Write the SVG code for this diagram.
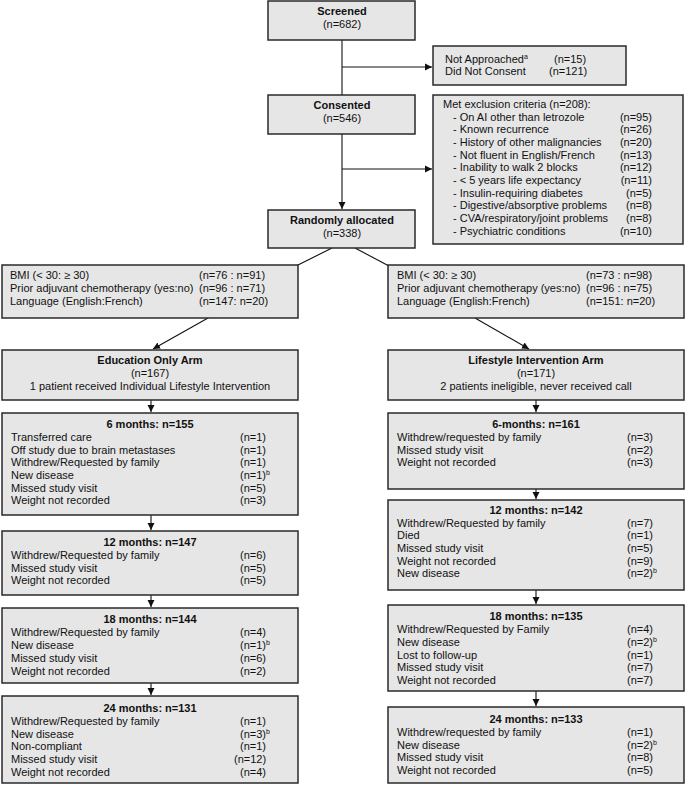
<svg xmlns="http://www.w3.org/2000/svg" width="685" height="785" viewBox="0 0 685 785">
<style>
.b{fill:#e6e6e6;stroke:#2a2a2a;stroke-width:1.5}
text{font-family:"Liberation Sans",Arial,sans-serif;font-size:11px;fill:#111}
.h{font-weight:bold;text-anchor:middle}
.c{text-anchor:middle}
.e{text-anchor:end}
.l{stroke:#111;stroke-width:1.1;fill:none}
.s{font-size:7px}
</style>
<defs><marker id="a" markerWidth="8" markerHeight="8" refX="7" refY="4" orient="auto" markerUnits="userSpaceOnUse"><path d="M0,0.5L7,4L0,7.5z" fill="#111"/></marker></defs>
<g id="connectors">
<path class="l" d="M342,40V209" marker-end="url(#a)"/>
<path class="l" d="M342,67H432" marker-end="url(#a)"/>
<path class="l" d="M342,169H432" marker-end="url(#a)"/>
<path class="l" d="M332,248L296,266"/>
<path class="l" d="M355,248L389,266"/>
<path class="l" d="M208,318L153,349" marker-end="url(#a)"/>
<path class="l" d="M475,318L529,349" marker-end="url(#a)"/>
<path class="l" d="M151,400V412" marker-end="url(#a)"/>
<path class="l" d="M151,515V530" marker-end="url(#a)"/>
<path class="l" d="M151,595V607" marker-end="url(#a)"/>
<path class="l" d="M151,683V695" marker-end="url(#a)"/>
<path class="l" d="M536,400V412" marker-end="url(#a)"/>
<path class="l" d="M536,489V499" marker-end="url(#a)"/>
<path class="l" d="M536,590V604" marker-end="url(#a)"/>
<path class="l" d="M536,691V706" marker-end="url(#a)"/>
</g>
<g id="screened"><rect class="b" x="268" y="1" width="147" height="39"/><text class="h" x="342" y="15">Screened</text><text class="c" x="342" y="28">(n=682)</text></g>
<g id="notapproached"><rect class="b" x="433" y="46" width="193" height="39"/><text x="445" y="63">Not Approached<tspan class="s" dy="-4">a</tspan></text><text x="554" y="63">(n=15)</text><text x="445" y="75">Did Not Consent</text><text x="549" y="75">(n=121)</text></g>
<g id="consented"><rect class="b" x="268" y="95" width="147" height="39"/><text class="h" x="342" y="109">Consented</text><text class="c" x="342" y="122">(n=546)</text></g>
<g id="exclusion"><rect class="b" x="433" y="95" width="250" height="149"/>
<text x="443" y="108">Met exclusion criteria (n=208):</text>
<text x="453" y="121">-  On AI other than letrozole</text><text class="e" x="652" y="121">(n=95)</text>
<text x="453" y="133">-  Known recurrence</text><text class="e" x="652" y="133">(n=26)</text>
<text x="453" y="146">-  History of other malignancies</text><text class="e" x="652" y="146">(n=20)</text>
<text x="453" y="159">-  Not fluent in English/French</text><text class="e" x="652" y="159">(n=13)</text>
<text x="453" y="171">-  Inability to walk 2 blocks</text><text class="e" x="652" y="171">(n=12)</text>
<text x="453" y="184">-  &lt; 5 years life expectancy</text><text class="e" x="652" y="184">(n=11)</text>
<text x="453" y="197">-  Insulin-requiring diabetes</text><text class="e" x="652" y="197">(n=5)</text>
<text x="453" y="209">-  Digestive/absorptive problems</text><text class="e" x="652" y="209">(n=8)</text>
<text x="453" y="222">-  CVA/respiratory/joint problems</text><text class="e" x="652" y="222">(n=8)</text>
<text x="453" y="235">-  Psychiatric conditions</text><text class="e" x="652" y="235">(n=10)</text>
</g>
<g id="random"><rect class="b" x="268" y="210" width="147" height="38"/><text class="h" x="342" y="224">Randomly allocated</text><text class="c" x="342" y="237">(n=338)</text></g>
<g id="bmiL"><rect class="b" x="2" y="265" width="296" height="53"/>
<text x="10" y="279">BMI (&lt; 30: ≥ 30)</text><text x="199" y="279">(n=76 :  n=91)</text>
<text x="10" y="292">Prior adjuvant chemotherapy (yes:no)</text><text x="199" y="292">(n=96 :  n=71)</text>
<text x="10" y="305">Language (English:French)</text><text x="199" y="305">(n=147: n=20)</text></g>
<g id="bmiR"><rect class="b" x="388" y="265" width="296" height="53"/>
<text x="397" y="279">BMI (&lt; 30: ≥ 30)</text><text x="586" y="279">(n=73 :  n=98)</text>
<text x="397" y="292">Prior adjuvant chemotherapy (yes:no)</text><text x="586" y="292">(n=96 :  n=75)</text>
<text x="397" y="305">Language (English:French)</text><text x="586" y="305">(n=151: n=20)</text></g>
<g id="armL"><rect class="b" x="2" y="350" width="296" height="50"/><text class="h" x="150" y="364">Education Only Arm</text><text class="c" x="150" y="377">(n=167)</text><text class="c" x="150" y="390">1 patient received Individual Lifestyle Intervention</text></g>
<g id="armR"><rect class="b" x="388" y="350" width="296" height="50"/><text class="h" x="536" y="364">Lifestyle Intervention Arm</text><text class="c" x="536" y="377">(n=171)</text><text class="c" x="536" y="390">2 patients ineligible, never received call</text></g>
<g id="L6"><rect class="b" x="2" y="413" width="296" height="102"/><text class="h" x="150" y="428">6 months: n=155</text>
<text x="11" y="441">Transferred care</text><text x="240" y="441">(n=1)</text>
<text x="11" y="454">Off study due to brain metastases</text><text x="240" y="454">(n=1)</text>
<text x="11" y="466">Withdrew/Requested by family</text><text x="240" y="466">(n=1)</text>
<text x="11" y="479">New disease</text><text x="240" y="479">(n=1)<tspan class="s" dy="-4">b</tspan></text>
<text x="11" y="492">Missed study visit</text><text x="240" y="492">(n=5)</text>
<text x="11" y="504">Weight not recorded</text><text x="240" y="504">(n=3)</text></g>
<g id="L12"><rect class="b" x="2" y="531" width="296" height="64"/><text class="h" x="150" y="546">12 months: n=147</text>
<text x="11" y="559">Withdrew/Requested by family</text><text x="240" y="559">(n=6)</text>
<text x="11" y="572">Missed study visit</text><text x="240" y="572">(n=5)</text>
<text x="11" y="584">Weight not recorded</text><text x="240" y="584">(n=5)</text></g>
<g id="L18"><rect class="b" x="2" y="608" width="296" height="75"/><text class="h" x="150" y="623">18 months: n=144</text>
<text x="11" y="636">Withdrew/Requested by family</text><text x="240" y="636">(n=4)</text>
<text x="11" y="649">New disease</text><text x="240" y="649">(n=1)<tspan class="s" dy="-4">b</tspan></text>
<text x="11" y="662">Missed study visit</text><text x="240" y="662">(n=6)</text>
<text x="11" y="675">Weight not recorded</text><text x="240" y="675">(n=2)</text></g>
<g id="L24"><rect class="b" x="2" y="696" width="296" height="87"/><text class="h" x="150" y="712">24 months: n=131</text>
<text x="11" y="725">Withdrew/Requested by family</text><text x="240" y="725">(n=1)</text>
<text x="11" y="738">New disease</text><text x="240" y="738">(n=3)<tspan class="s" dy="-4">b</tspan></text>
<text x="11" y="750">Non-compliant</text><text x="240" y="750">(n=1)</text>
<text x="11" y="763">Missed study visit</text><text x="234" y="763">(n=12)</text>
<text x="11" y="776">Weight not recorded</text><text x="240" y="776">(n=4)</text></g>
<g id="R6"><rect class="b" x="388" y="413" width="296" height="76"/><text class="h" x="536" y="428">6-months: n=161</text>
<text x="397" y="441">Withdrew/requested by family</text><text x="627" y="441">(n=3)</text>
<text x="397" y="454">Missed study visit</text><text x="627" y="454">(n=2)</text>
<text x="397" y="466">Weight not recorded</text><text x="627" y="466">(n=3)</text></g>
<g id="R12"><rect class="b" x="388" y="500" width="296" height="90"/><text class="h" x="536" y="514">12 months: n=142</text>
<text x="397" y="527">Withdrew/Requested by family</text><text x="627" y="527">(n=7)</text>
<text x="397" y="539">Died</text><text x="627" y="539">(n=1)</text>
<text x="397" y="552">Missed study visit</text><text x="627" y="552">(n=5)</text>
<text x="397" y="565">Weight not recorded</text><text x="627" y="565">(n=9)</text>
<text x="397" y="577">New disease</text><text x="627" y="577">(n=2)<tspan class="s" dy="-4">b</tspan></text></g>
<g id="R18"><rect class="b" x="388" y="605" width="296" height="86"/><text class="h" x="536" y="620">18 months: n=135</text>
<text x="397" y="633">Withdrew/Requested by Family</text><text x="627" y="633">(n=4)</text>
<text x="397" y="646">New disease</text><text x="627" y="646">(n=2)<tspan class="s" dy="-4">b</tspan></text>
<text x="397" y="659">Lost to follow-up</text><text x="627" y="659">(n=1)</text>
<text x="397" y="671">Missed study visit</text><text x="627" y="671">(n=7)</text>
<text x="397" y="684">Weight not recorded</text><text x="627" y="684">(n=7)</text></g>
<g id="R24"><rect class="b" x="388" y="707" width="296" height="76"/><text class="h" x="536" y="723">24 months: n=133</text>
<text x="397" y="736">Withdrew/requested by family</text><text x="627" y="736">(n=1)</text>
<text x="397" y="749">New disease</text><text x="627" y="749">(n=2)<tspan class="s" dy="-4">b</tspan></text>
<text x="397" y="761">Missed study visit</text><text x="627" y="761">(n=8)</text>
<text x="397" y="774">Weight not recorded</text><text x="627" y="774">(n=5)</text></g>
</svg>
